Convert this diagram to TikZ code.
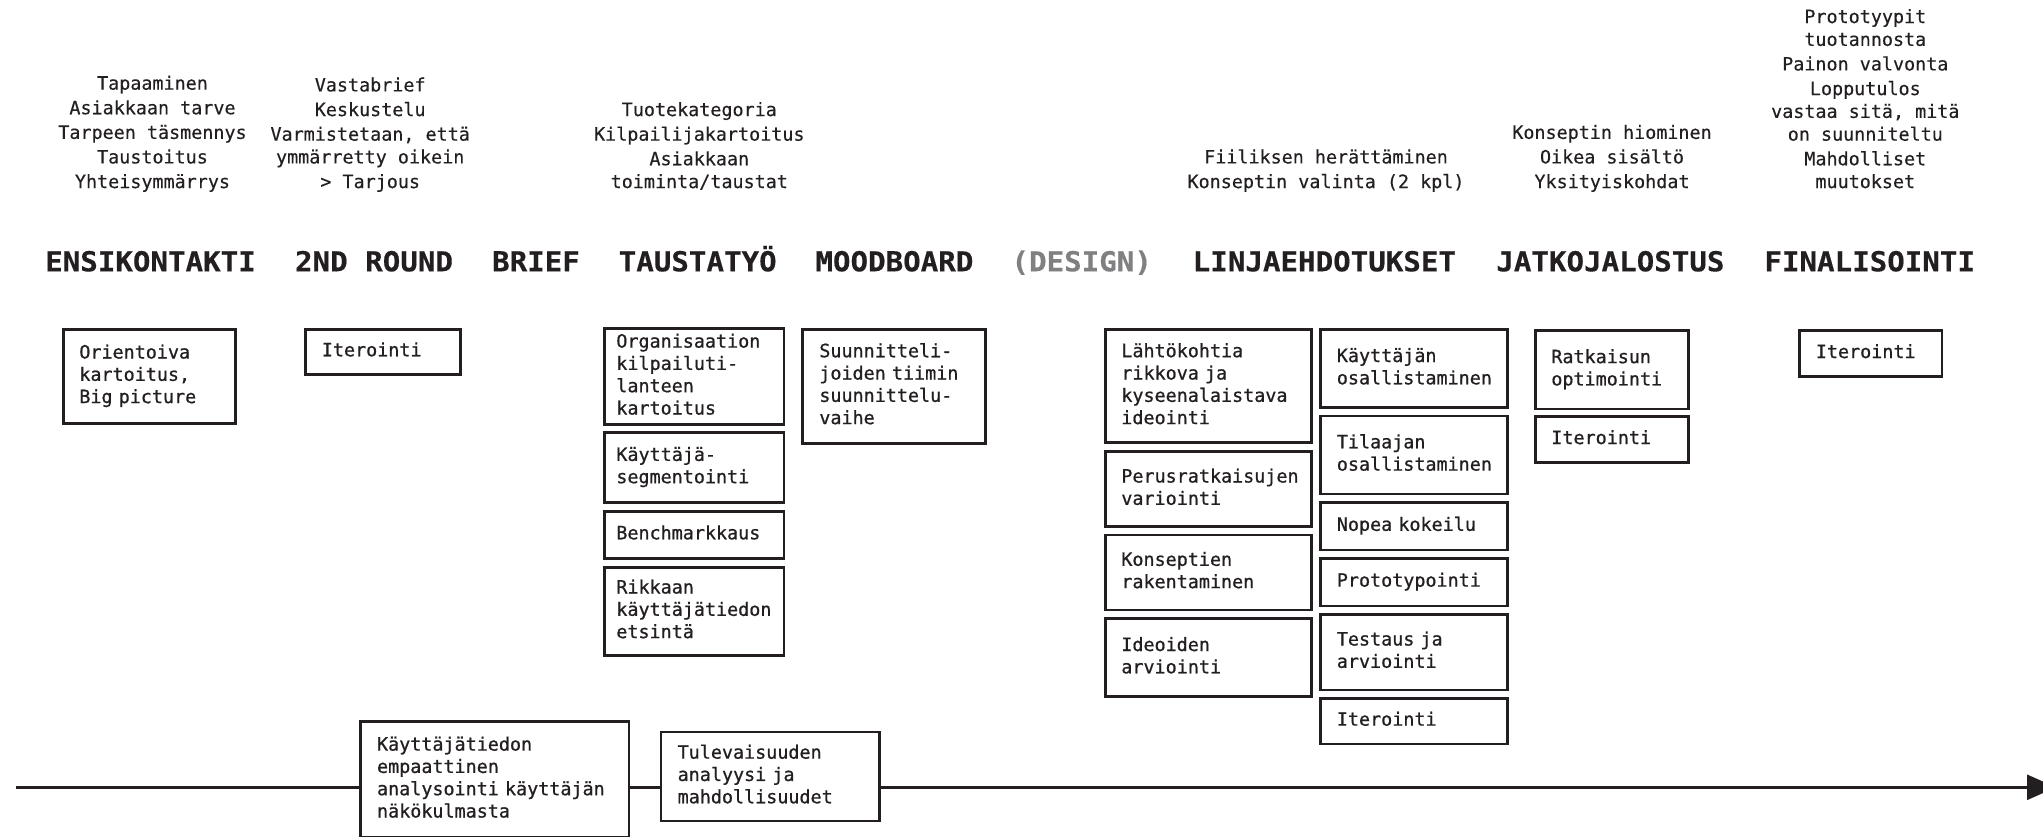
\documentclass[tikz,border=0pt]{standalone}
\usepackage{fontspec}
\usetikzlibrary{arrows.meta}
\newfontfamily\bodymono[FakeBold=0.8]{DejaVu Sans Mono}
\newfontfamily\notemono[FakeBold=0.3]{DejaVu Sans Mono}
\newfontfamily\headmono[FakeStretch=1.06,FakeBold=0.4]{DejaVu Sans Mono Bold}
\definecolor{ink}{HTML}{231F20}
\definecolor{muted}{HTML}{808083}

% \stagebox{name}{x1}{y1}{x2}{y2}{text inset}{text}: a framed task box whose
% outer edges run from (x1,y1) to (x2,y2), text left aligned and centred vertically
\newcommand\stagebox[7]{%
  \pgfmathsetmacro\sbW{#4-#2-2.7}%
  \pgfmathsetmacro\sbH{#5-#3-2.7}%
  \pgfmathsetmacro\sbPad{#6-1.35}%
  \pgfmathsetmacro\sbTW{\sbW-2*\sbPad}%
  \node[box, minimum width=\sbW pt, minimum height=\sbH pt,
        inner xsep=\sbPad pt, text width=\sbTW pt] (#1) at (#2+1.35,#3+1.35) {#7};%
}

\begin{document}
\begin{tikzpicture}[x=1pt,y=-1pt,
  head/.style={font=\headmono\fontsize{27.5pt}{30pt}\selectfont, text=ink,
               inner sep=0pt, anchor=base},
  notes/.style={font=\notemono\fontsize{18.4pt}{22.8pt}\selectfont, text=ink,
                align=center, inner sep=0pt, anchor=south,
                execute at end node=\strut},
  box/.style={draw=ink, line width=2.7pt, fill=white, text=ink,
              anchor=north west, align=left, inner ysep=0pt,
              font=\bodymono\fontsize{18.4pt}{22.3pt}\selectfont,
              execute at begin node=\strut, execute at end node=\strut},
  timeline/.style={draw=ink, line width=2.7pt}]

\fill[white] (0,0) rectangle (2043,836);
\useasboundingbox (0,0) rectangle (2043,836);

% phase titles
\node[head] (h1) at (150.5,271.3) {ENSIKONTAKTI};
\node[head] (h2) at (374,271.3) {2ND ROUND};
\node[head] (h3) at (536,271.3) {BRIEF};
\node[head] (h4) at (697.7,271.3) {TAUSTATYÖ};
\node[head] (h5) at (894.4,271.3) {MOODBOARD};
\node[head, text=muted] (h6) at (1081.7,271.3) {(DESIGN)};
\node[head] (h7) at (1324.4,271.3) {LINJAEHDOTUKSET};
\node[head] (h8) at (1610.4,271.3) {JATKOJALOSTUS};
\node[head] (h9) at (1869.7,271.3) {FINALISOINTI};

% notes above the titles
\node[notes] (n1) at (152.5,195.1) {Tapaaminen\\[1.8pt]Asiakkaan tarve\\[1.8pt]Tarpeen täsmennys\\[1.8pt]Taustoitus\\[1.8pt]Yhteisymmärrys};
\node[notes] (n2) at (370.2,195.1) {Vastabrief\\[1.8pt]Keskustelu\\[1.8pt]Varmistetaan, että\\ymmärretty oikein\\[1.8pt]> Tarjous};
\node[notes] (n3) at (699.3,195.1) {Tuotekategoria\\[1.8pt]Kilpailijakartoitus\\[1.8pt]Asiakkaan\\toiminta/taustat};
\node[notes] (n4) at (1326,195.1) {Fiiliksen herättäminen\\[1.8pt]Konseptin valinta (2 kpl)};
\node[notes] (n5) at (1612,195.1) {Konseptin hiominen\\[1.8pt]Oikea sisältö\\[1.8pt]Yksityiskohdat};
\node[notes] (n6) at (1865.3,195.1) {Prototyypit\\tuotannosta\\[1.8pt]Painon valvonta\\[1.8pt]Lopputulos\\vastaa sitä, mitä\\on suunniteltu\\[1.8pt]Mahdolliset\\muutokset};

% task boxes
\stagebox{ori}{61}{326.5}{235.5}{423.5}{17}{Orientoiva\\kartoitus,\\Big picture}
\stagebox{it2}{302.5}{326.5}{460.5}{374.5}{18}{Iterointi}

\stagebox{org}{602}{326}{784}{424.5}{13}{Organisaation\\kilpailuti-\\lanteen\\kartoitus}
\stagebox{seg}{602}{430}{784}{502.5}{13}{Käyttäjä-\\segmentointi}
\stagebox{ben}{602}{508.5}{784}{558.5}{13}{Benchmarkkaus}
\stagebox{rik}{602}{564.5}{784}{655.5}{13}{Rikkaan\\käyttäjätiedon\\etsintä}

\stagebox{suu}{800}{326.5}{985.5}{443.3}{18}{Suunnitteli-\\joiden tiimin\\suunnittelu-\\vaihe}

\stagebox{lah}{1103}{327}{1311.5}{442.7}{17}{Lähtökohtia\\rikkova ja\\kyseenalaistava\\ideointi}
\stagebox{per}{1103}{449}{1311.5}{526.7}{17}{Perusratkaisujen\\variointi}
\stagebox{kon}{1103}{532.3}{1311.5}{610}{17}{Konseptien\\rakentaminen}
\stagebox{ide}{1103}{616}{1311.5}{696.7}{17}{Ideoiden\\arviointi}

\stagebox{kay}{1318}{327}{1507.5}{407.7}{17.5}{Käyttäjän\\osallistaminen}
\stagebox{til}{1318}{413.3}{1507.5}{494}{17.5}{Tilaajan\\osallistaminen}
\stagebox{nop}{1318}{500}{1507.5}{550}{17.5}{Nopea kokeilu}
\stagebox{pro}{1318}{555.7}{1507.5}{606}{17.5}{Prototypointi}
\stagebox{tes}{1318}{611.7}{1507.5}{690}{17.5}{Testaus ja\\arviointi}
\stagebox{it3}{1318}{695.7}{1507.5}{744}{17.5}{Iterointi}

\stagebox{rat}{1533}{328}{1688.5}{409}{17}{Ratkaisun\\optimointi}
\stagebox{it4}{1533}{414}{1688.5}{462.5}{17}{Iterointi}

\stagebox{it5}{1796.5}{328}{1942}{376.5}{18}{Iterointi}

% boxes sitting on the time line
\stagebox{kt}{357.7}{719}{629}{837.5}{18}{Käyttäjätiedon\\empaattinen\\analysointi käyttäjän\\näkökulmasta}
\stagebox{tul}{658.3}{729.3}{879.5}{821}{18}{Tulevaisuuden\\analyysi ja\\mahdollisuudet}

% time line
\coordinate (tlstart) at (15.6,787.3);
\coordinate (tlend) at (2056,787.3);
\draw[timeline] (tlstart) -- (tlstart -| kt.west);
\draw[timeline] (tlstart -| kt.east) -- (tlstart -| tul.west);
\draw[timeline, -{Triangle[length=29pt,width=25pt]}] (tlstart -| tul.east) -- (tlend);
\end{tikzpicture}
\end{document}
